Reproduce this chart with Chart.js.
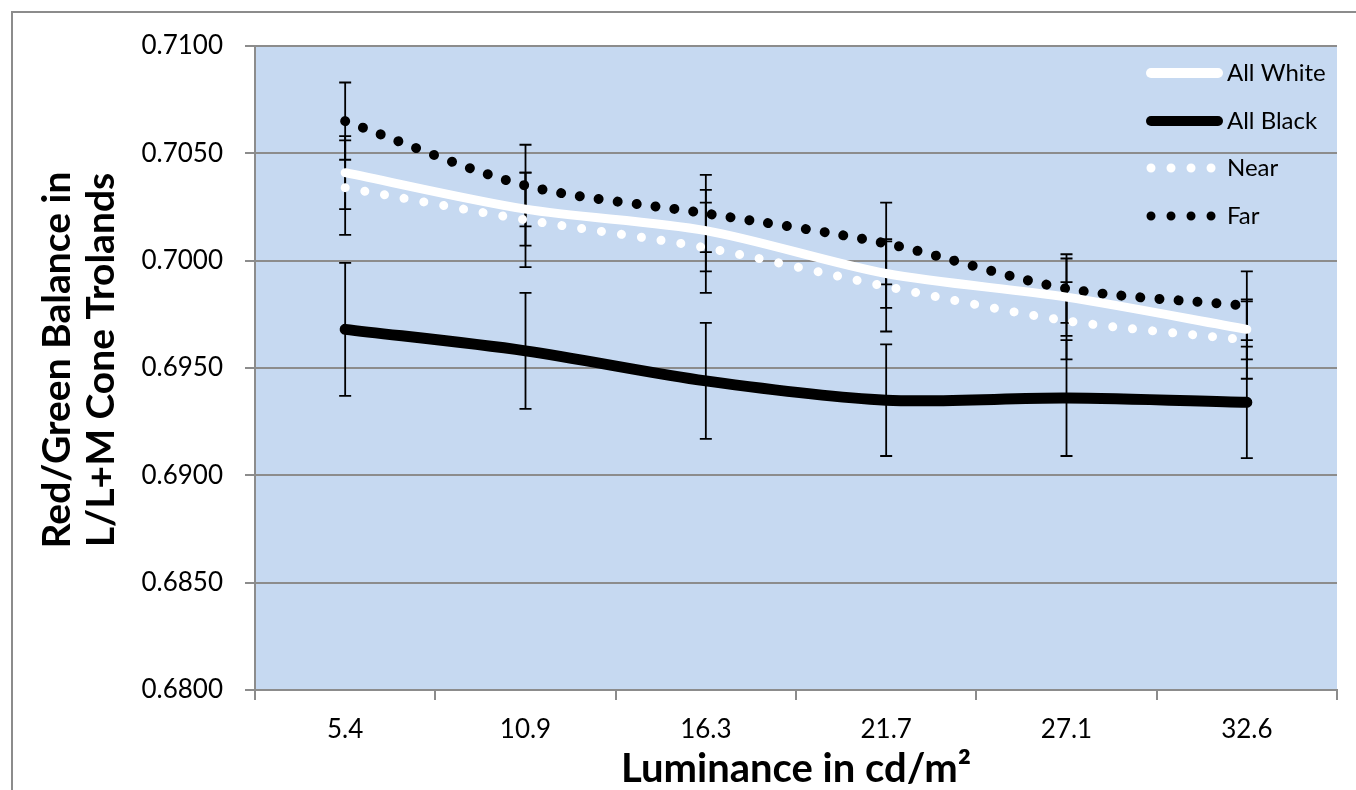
<!DOCTYPE html>
<html>
<head>
<meta charset="utf-8">
<script src="https://cdn.jsdelivr.net/npm/chart.js@4/dist/chart.umd.min.js"></script>
<style>
html,body{margin:0;padding:0;background:#fff;overflow:hidden;}
#wrap{position:absolute;left:0;top:0;width:1356px;height:790px;}
</style>
</head>
<body>
<div id="wrap"><canvas id="c" width="1356" height="790"></canvas></div>
<script>
// ---- data ----
const categories = ['5.4', '10.9', '16.3', '21.7', '27.1', '32.6'];
const allWhite    = [0.7041, 0.7024, 0.7014, 0.6994, 0.6983, 0.6968];
const allWhiteErr = [0.0017, 0.0017, 0.0019, 0.0016, 0.0018, 0.0014];
const allBlack    = [0.6968, 0.6958, 0.6944, 0.6935, 0.6936, 0.6934];
const allBlackErr = [0.0031, 0.0027, 0.0027, 0.0026, 0.0027, 0.0026];
const near        = [0.7034, 0.7019, 0.7006, 0.6988, 0.6972, 0.6963];
const nearErr     = [0.0022, 0.0022, 0.0021, 0.0021, 0.0018, 0.0018];
const far         = [0.7065, 0.7035, 0.7022, 0.7008, 0.6987, 0.6979];
const farErr      = [0.0018, 0.0019, 0.0018, 0.0019, 0.0016, 0.0016];
const seriesNames = ['All White', 'All Black', 'Near', 'Far'];
const yTitleLines = ['Red/Green Balance in', 'L/L+M Cone Trolands'];
const xTitle = 'Luminance in cd/m²';

const GRID = '#8c8c8c';
const FONT = 'Lato';

const errorBars = {
  id: 'errorBars',
  beforeDatasetsDraw(chart) {
    const ctx = chart.ctx, xs = chart.scales.x, ys = chart.scales.y;
    ctx.save();
    ctx.strokeStyle = '#000';
    ctx.lineWidth = 1.8;
    chart.data.datasets.forEach(ds => {
      ds.data.forEach((v, j) => {
        const e = ds.err[j];
        const x = xs.getPixelForValue(j);
        const yt = ys.getPixelForValue(v + e);
        const yb = ys.getPixelForValue(v - e);
        ctx.beginPath();
        ctx.moveTo(x, yt); ctx.lineTo(x, yb);
        ctx.moveTo(x - 6, yt); ctx.lineTo(x + 6, yt);
        ctx.moveTo(x - 6, yb); ctx.lineTo(x + 6, yb);
        ctx.stroke();
      });
    });
    ctx.restore();
  }
};

const decor = {
  id: 'decor',
  beforeDraw(chart) {
    const ctx = chart.ctx, a = chart.chartArea;
    ctx.save();
    ctx.fillStyle = '#fff';
    ctx.fillRect(0, 0, chart.width, chart.height);
    ctx.strokeStyle = GRID;
    ctx.lineWidth = 2;
    ctx.beginPath();
    ctx.moveTo(12, 800); ctx.lineTo(12, 12); ctx.lineTo(1360, 12);
    ctx.stroke();
    ctx.fillStyle = '#C6D9F1';
    ctx.fillRect(a.left, a.top, a.right - a.left, a.bottom - a.top);
    ctx.restore();
  },
  afterDraw(chart) {
    const ctx = chart.ctx, a = chart.chartArea;
    ctx.save();
    // axis titles
    ctx.fillStyle = '#000';
    ctx.textAlign = 'center';
    ctx.textBaseline = 'middle';
    ctx.font = 'bold 40px ' + FONT;
    ctx.fillText(xTitle, (a.left + a.right) / 2, 769);
    ctx.font = 'bold 39px ' + FONT;
    ctx.save();
    ctx.translate(57, 360);
    ctx.rotate(-Math.PI / 2);
    ctx.fillText(yTitleLines[0], 0, 0);
    ctx.restore();
    ctx.save();
    ctx.translate(101, 360);
    ctx.rotate(-Math.PI / 2);
    ctx.fillText(yTitleLines[1], 0, 0);
    ctx.restore();
    // legend
    const rows = [73, 121, 168, 216];
    const x0 = 1147, x1 = 1222;
    chart.data.datasets.forEach((ds, i) => {
      const y = rows[i];
      ctx.save();
      ctx.strokeStyle = ds.borderColor;
      ctx.lineCap = 'round';
      ctx.lineWidth = ds.legendWidth;
      if (ds.borderDash && ds.borderDash.length) {
        ctx.setLineDash([0.01, 20]);
        ctx.beginPath(); ctx.moveTo(1151, y); ctx.lineTo(1213, y); ctx.stroke();
      } else {
        ctx.beginPath(); ctx.moveTo(x0 + 4, y); ctx.lineTo(x1 - 4, y); ctx.stroke();
      }
      ctx.restore();
      ctx.fillStyle = '#000';
      ctx.font = '24px ' + FONT;
      ctx.textAlign = 'left';
      ctx.textBaseline = 'middle';
      ctx.fillText(ds.label, 1227, y);
    });
    ctx.restore();
  }
};

new Chart(document.getElementById('c'), {
  type: 'line',
  data: {
    labels: categories,
    datasets: [
      { label: seriesNames[0], data: allWhite, err: allWhiteErr, borderColor: '#ffffff', borderWidth: 9, legendWidth: 10,
        borderCapStyle: 'round', borderJoinStyle: 'round', tension: 0.3, pointRadius: 0 },
      { label: seriesNames[1], data: allBlack, err: allBlackErr, borderColor: '#000000', borderWidth: 11, legendWidth: 10,
        borderCapStyle: 'round', borderJoinStyle: 'round', tension: 0.3, pointRadius: 0 },
      { label: seriesNames[2], data: near, err: nearErr, borderColor: '#ffffff', borderWidth: 9, legendWidth: 9,
        borderDash: [0.01, 20], borderCapStyle: 'round', tension: 0.3, pointRadius: 0 },
      { label: seriesNames[3], data: far, err: farErr, borderColor: '#000000', borderWidth: 10, legendWidth: 9,
        borderDash: [0.01, 19], borderCapStyle: 'round', tension: 0.3, pointRadius: 0 }
    ]
  },
  options: {
    responsive: false,
    animation: false,
    events: [],
    layout: { padding: { top: 46, right: 19, left: 0, bottom: 0 } },
    plugins: { legend: { display: false }, tooltip: { enabled: false } },
    scales: {
      x: {
        offset: true,
        afterFit: s => { s.height = 100; },
        grid: { display: true, offset: true, drawOnChartArea: false, drawTicks: true, tickLength: 10, color: GRID, lineWidth: 2 },
        border: { display: true, color: GRID, width: 2 },
        ticks: { color: '#000', font: { family: FONT, size: 26 }, padding: 14, maxRotation: 0 }
      },
      y: {
        min: 0.68, max: 0.71,
        afterFit: s => { s.width = 255; },
        afterBuildTicks: s => { s.ticks = []; for (let i = 0; i <= 6; i++) s.ticks.push({ value: +(0.68 + i * 0.005).toFixed(3) }); },
        grid: { display: true, drawOnChartArea: true, drawTicks: true, tickLength: 10, color: GRID, lineWidth: 2 },
        border: { display: true, color: GRID, width: 2 },
        ticks: { color: '#000', font: { family: FONT, size: 26 }, padding: 22, callback: v => Number(v).toFixed(4) }
      }
    }
  },
  plugins: [decor, errorBars]
});
</script>
</body>
</html>
